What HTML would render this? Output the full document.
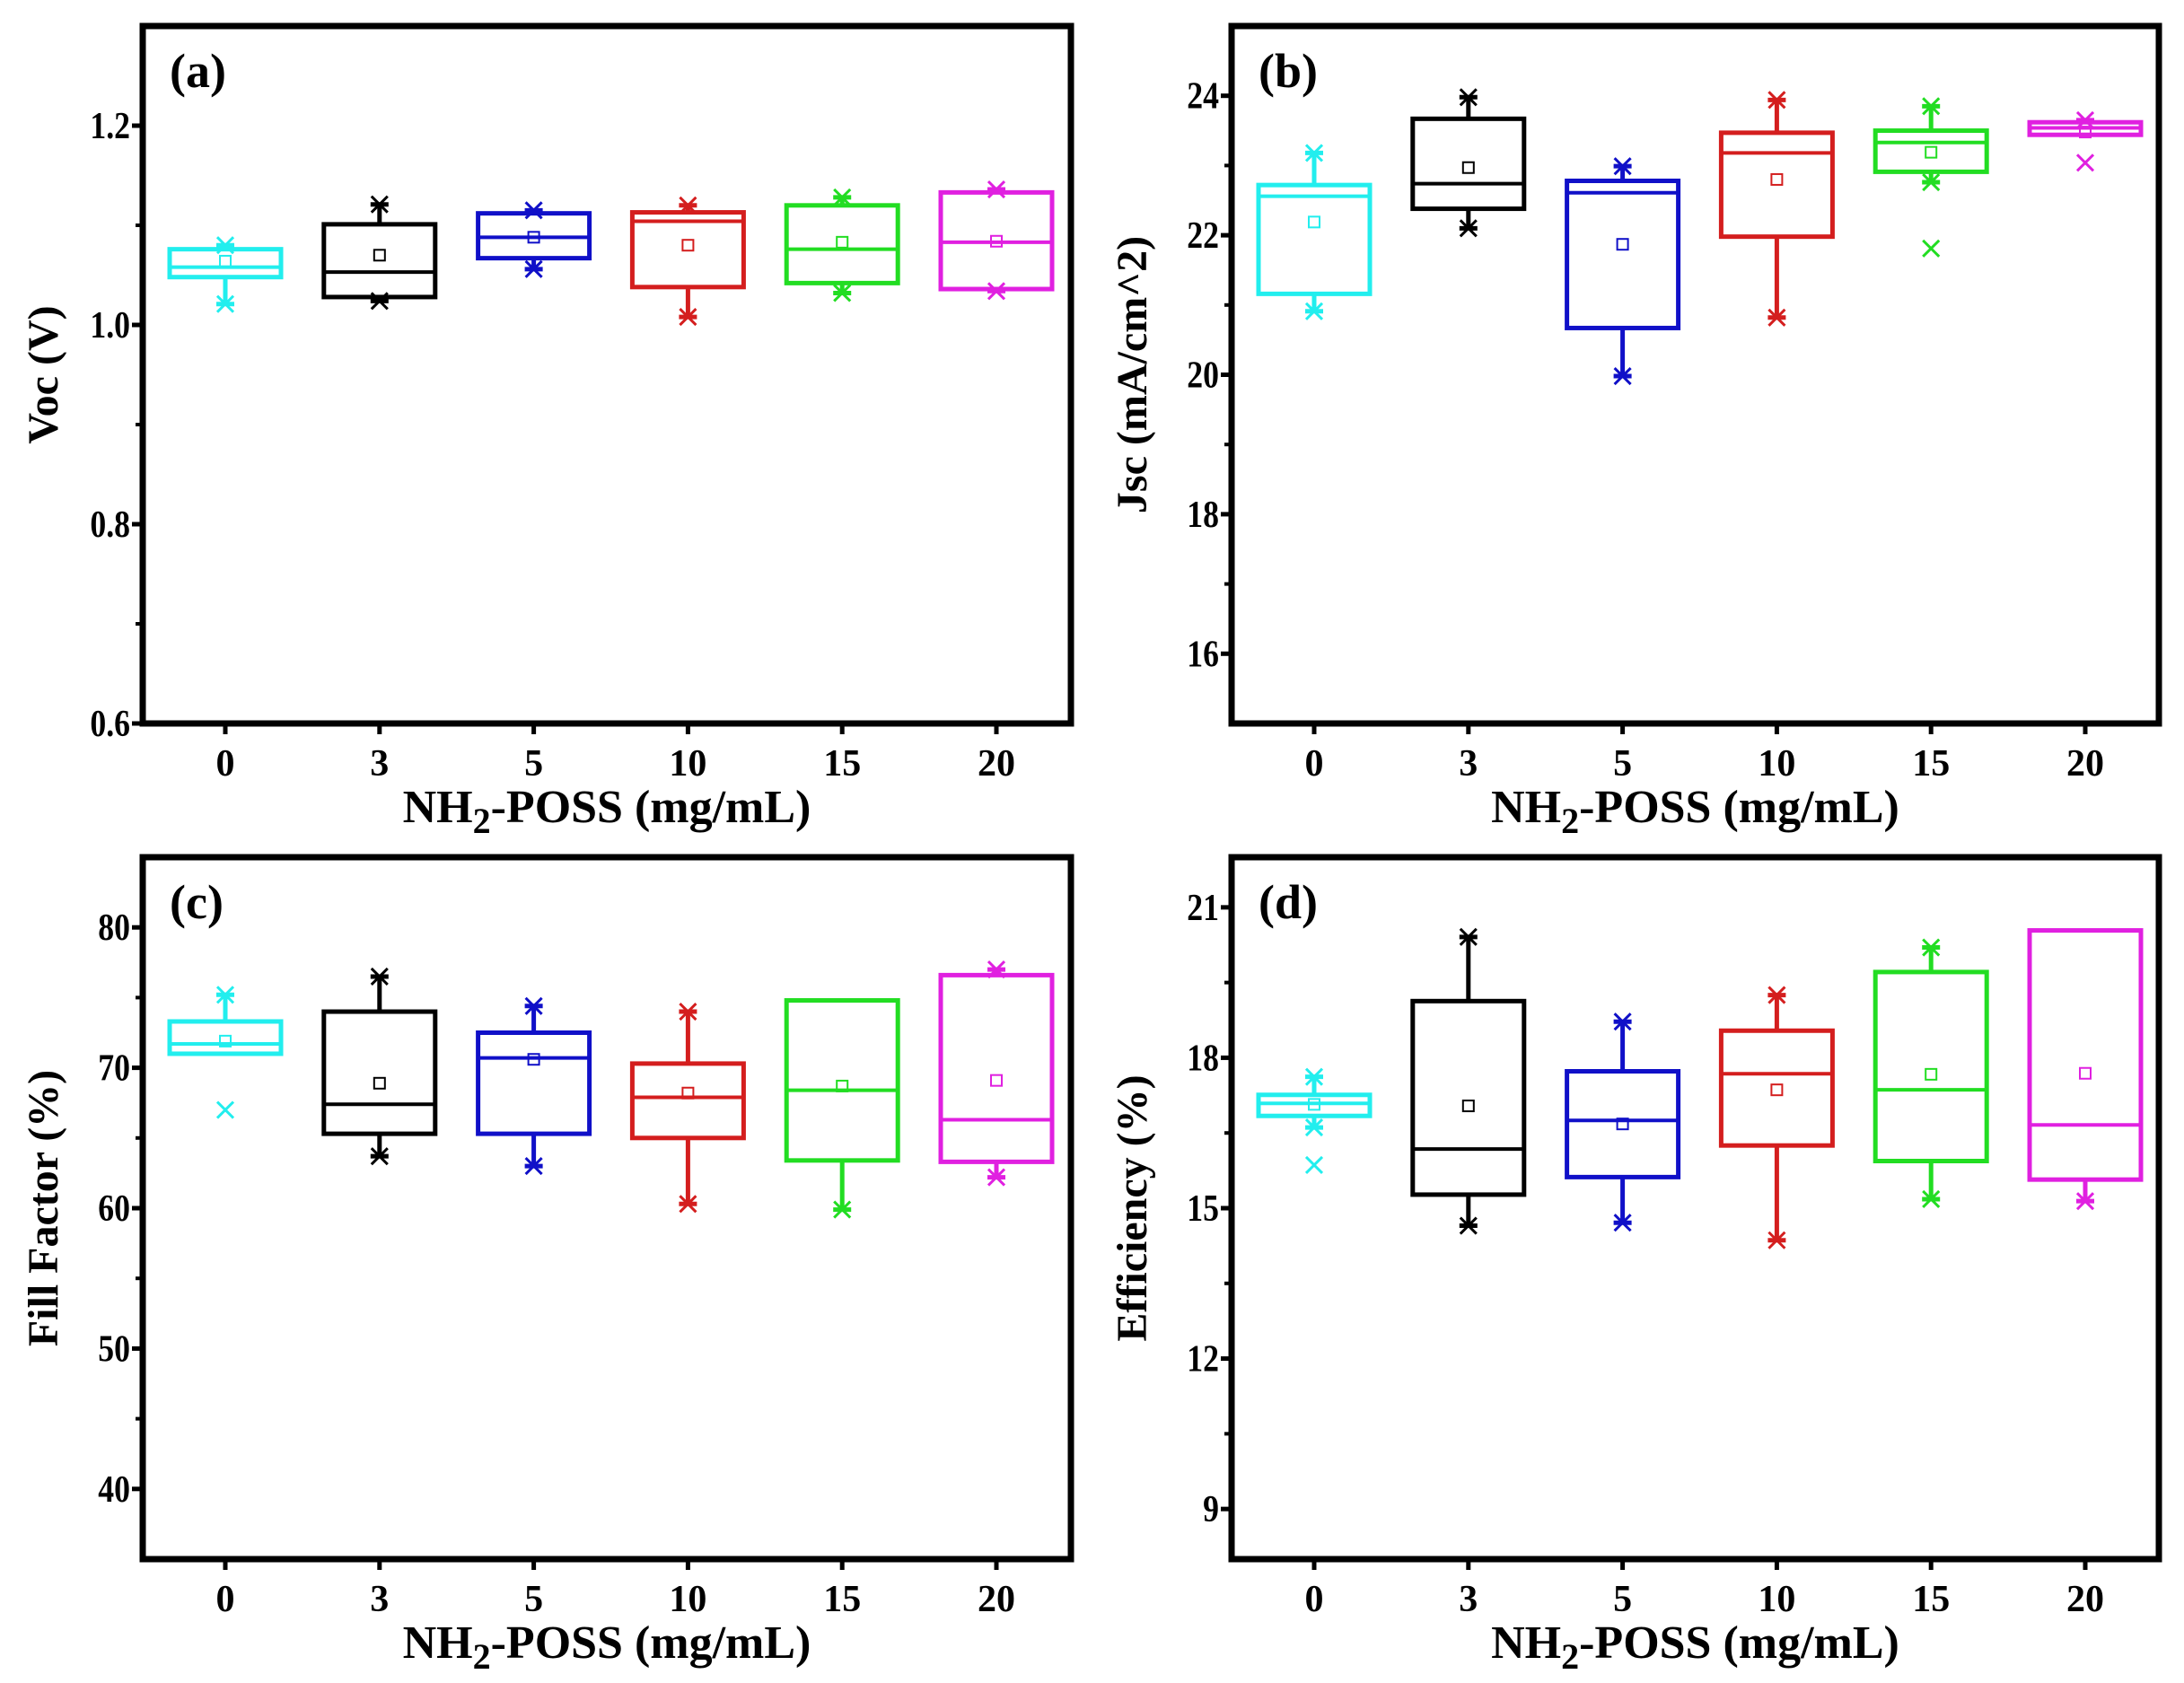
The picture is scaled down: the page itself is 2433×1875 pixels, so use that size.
<!DOCTYPE html>
<html><head><meta charset="utf-8">
<style>
html,body{margin:0;padding:0;background:#fff;}
svg text{font-family:"Liberation Serif",serif;font-weight:bold;fill:#000;}
</style></head>
<body>
<svg id="fig" width="2433" height="1870" viewBox="0 0 2433 1870" xmlns="http://www.w3.org/2000/svg"></svg>
<script>
const categories = ["0","3","5","10","15","20"];
const colors = ["#22eeee","#000000","#1010c8","#d41e1e","#22dd22","#e020e0"];
// panel (a) Voc
const vocQ1 = [1.048,1.028,1.067,1.038,1.042,1.036];
const vocMed = [1.058,1.053,1.088,1.104,1.076,1.083];
const vocQ3 = [1.076,1.101,1.112,1.113,1.120,1.133];
const vocMean = [1.064,1.070,1.088,1.080,1.083,1.084];
const vocLo = [1.021,1.024,1.056,1.008,1.032,1.034];
const vocHi = [1.080,1.121,1.115,1.120,1.128,1.136];
const vocOut = [null,null,null,null,null,null];
const vocTicks = [0.6,0.8,1.0,1.2];
// panel (b) Jsc
const jscQ1 = [21.16,22.38,20.67,21.98,22.91,23.44];
const jscMed = [22.56,22.74,22.61,23.18,23.33,23.54];
const jscQ3 = [22.72,23.67,22.78,23.47,23.50,23.62];
const jscMean = [22.19,22.97,21.87,22.80,23.19,23.48];
const jscLo = [20.91,22.10,19.98,20.82,22.76,23.44];
const jscHi = [23.18,23.98,22.99,23.94,23.85,23.65];
const jscOut = [null,null,null,null,21.81,23.04];
const jscTicks = [16,18,20,22,24];
// panel (c) FF
const ffQ1 = [71.0,65.3,65.3,65.0,63.4,63.3];
const ffMed = [71.7,67.4,70.7,67.9,68.4,66.3];
const ffQ3 = [73.3,74.0,72.5,70.3,74.8,76.6];
const ffMean = [71.9,68.9,70.6,68.2,68.7,69.1];
const ffLo = [71.0,63.7,63.0,60.3,59.9,62.2];
const ffHi = [75.2,76.5,74.4,74.0,74.8,77.0];
const ffOut = [67.0,null,null,null,null,null];
const ffTicks = [40,50,60,70,80];
// panel (d) PCE
const effQ1 = [16.84,15.27,15.62,16.25,15.94,15.57];
const effMed = [17.09,16.18,16.75,17.68,17.36,16.66];
const effQ3 = [17.26,19.13,17.73,18.54,19.71,20.54];
const effMean = [17.07,17.04,16.68,17.36,17.67,17.69];
const effLo = [16.61,14.65,14.71,14.36,15.18,15.14];
const effHi = [17.62,20.41,18.72,19.25,20.20,20.54];
const effOut = [15.86,null,null,null,null,null];
const effTicks = [9,12,15,18,21];

const NS="http://www.w3.org/2000/svg";
const svg=document.getElementById('fig');
function mk(tag,attrs,parent){const e=document.createElementNS(NS,tag);for(const k in attrs)e.setAttribute(k,attrs[k]);(parent||svg).appendChild(e);return e;}

function panel(opt){
  const g=mk('g',{});
  
  
  const L=opt.x0,R=opt.x1,T=opt.y0,B=opt.y1;
  const y=v=>B-(v-opt.min)/(opt.max-opt.min)*(B-T);
  const x=i=>L+92+i*171.8;
  const bw=124;
  opt.ticks.forEach((t,k)=>{
    const ty=y(t);
    const tk=mk('line',{x1:L-12,x2:L,y1:ty,y2:ty,stroke:'#000','stroke-width':5},g);
    
    
    const tl=mk('text',{x:L-14,y:ty+14,'text-anchor':'end','font-size':42,transform:`translate(${L-14},0) scale(0.85,1) translate(${-(L-14)},0)`},g);
    tl.textContent=opt.labels?opt.labels[k]:String(t);
    
    
    const half=(opt.ticks[1]-opt.ticks[0])/2;
    const mv=t+half;
    if(mv<opt.max){const my=y(mv);const m=mk('line',{x1:L-8,x2:L,y1:my,y2:my,stroke:'#000','stroke-width':4},g);}
    if(k===0){const mv2=t-half;if(mv2>opt.min){const my=y(mv2);const m=mk('line',{x1:L-8,x2:L,y1:my,y2:my,stroke:'#000','stroke-width':4},g);}}
  });
  categories.forEach((c,i)=>{
    const tk=mk('line',{x1:x(i),x2:x(i),y1:B,y2:B+12,stroke:'#000','stroke-width':5},g);
    
    
    const tl=mk('text',{x:x(i),y:B+58,'text-anchor':'middle','font-size':42},g);
    tl.textContent=c;
    
    
  });
  categories.forEach((c,i)=>{
    const col=colors[i];const cx=x(i);
    const bg=mk('g',{},g);
    
    
    const q1=y(opt.q1[i]),q3=y(opt.q3[i]);
    const w1=mk('line',{x1:cx,x2:cx,y1:q3,y2:y(opt.hi[i]),stroke:col,'stroke-width':5},bg);
    
    const w2=mk('line',{x1:cx,x2:cx,y1:q1,y2:y(opt.lo[i]),stroke:col,'stroke-width':5},bg);
    
    [[opt.hi[i],opt.q3[i]],[opt.lo[i],opt.q1[i]]].forEach(([v,edge])=>{
      if(v===edge)return;
      const vy=y(v);
      const cap=mk('line',{x1:cx-10,x2:cx+10,y1:vy,y2:vy,stroke:col,'stroke-width':5},bg);
      
      const mx=mk('path',{d:`M${cx-9} ${vy-9}L${cx+9} ${vy+9}M${cx-9} ${vy+9}L${cx+9} ${vy-9}`,stroke:col,'stroke-width':3},bg);
      
    });
    const r=mk('rect',{x:cx-bw/2,y:q3,width:bw,height:Math.max(q1-q3,1),fill:'none',stroke:col,'stroke-width':5},bg);
    
    const md=y(opt.med[i]);
    const ml=mk('line',{x1:cx-bw/2,x2:cx+bw/2,y1:md,y2:md,stroke:col,'stroke-width':4},bg);
    
    const mn=y(opt.mean[i]);
    const ms=mk('rect',{x:cx-6,y:mn-6,width:12,height:12,fill:'none',stroke:col,'stroke-width':2},bg);
    
    if(opt.out[i]!==null){
      const oy=y(opt.out[i]);
      const om=mk('path',{d:`M${cx-9} ${oy-9}L${cx+9} ${oy+9}M${cx-9} ${oy+9}L${cx+9} ${oy-9}`,stroke:col,'stroke-width':3},bg);
      
    }
  });
  const fr=mk('rect',{x:L,y:T,width:R-L,height:B-T,fill:'none',stroke:'#000','stroke-width':7},g);
  
  const lt=mk('text',{x:L+30,y:T+68,'font-size':54},g);
  lt.textContent=opt.letter;
  
  const yt=mk('text',{x:0,y:0,'text-anchor':'middle','font-size':48,transform:`translate(${L-95},${(T+B)/2}) rotate(-90)`},g);
  yt.textContent=opt.ytitle;
  
  const xt=mk('text',{x:(L+R)/2,y:B+110,'text-anchor':'middle','font-size':52},g);
  xt.innerHTML='NH<tspan dy="12" font-size="40">2</tspan><tspan dy="-12">-POSS (mg/mL)</tspan>';
  
}

panel({name:'panel-a-voc',letter:'(a)',ytitle:'Voc (V)',x0:159,x1:1193,y0:29,y1:806,min:0.6,max:1.3,ticks:vocTicks,labels:vocTicks.map(t=>t.toFixed(1)),q1:vocQ1,med:vocMed,q3:vocQ3,mean:vocMean,lo:vocLo,hi:vocHi,out:vocOut});
panel({name:'panel-b-jsc',letter:'(b)',ytitle:'Jsc (mA/cm^2)',x0:1372,x1:2405,y0:29,y1:806,min:15,max:25,ticks:jscTicks,q1:jscQ1,med:jscMed,q3:jscQ3,mean:jscMean,lo:jscLo,hi:jscHi,out:jscOut});
panel({name:'panel-c-ff',letter:'(c)',ytitle:'Fill Factor (%)',x0:159,x1:1193,y0:955,y1:1737,min:35,max:85,ticks:ffTicks,q1:ffQ1,med:ffMed,q3:ffQ3,mean:ffMean,lo:ffLo,hi:ffHi,out:ffOut});
panel({name:'panel-d-efficiency',letter:'(d)',ytitle:'Efficiency (%)',x0:1372,x1:2405,y0:955,y1:1737,min:8,max:22,ticks:effTicks,q1:effQ1,med:effMed,q3:effQ3,mean:effMean,lo:effLo,hi:effHi,out:effOut});
</script>
</body></html>
